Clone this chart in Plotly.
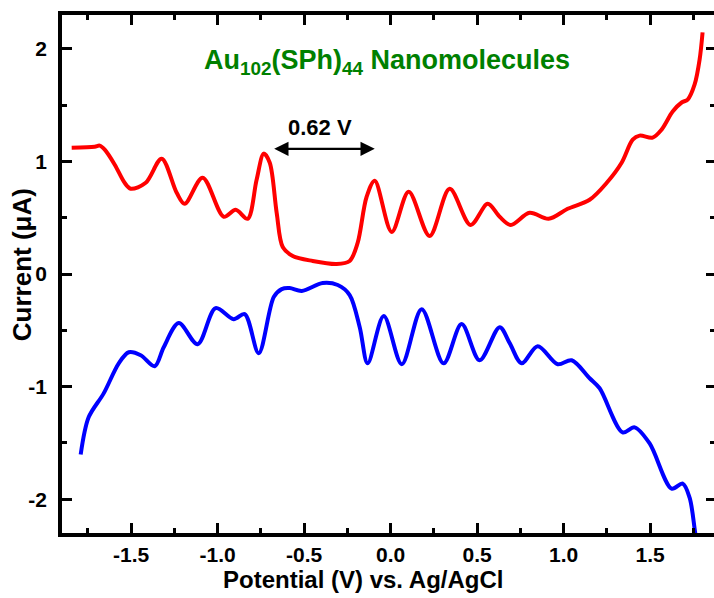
import plotly.graph_objects as go

# Oxidation (red) DPV trace: potential (V) and current (uA)
red_x = [-1.844, -1.711, -1.682, -1.653, -1.595, -1.538, -1.503, -1.416, -1.324, -1.237,
         -1.191, -1.087, -0.965, -0.896, -0.827, -0.775, -0.734, -0.699, -0.659, -0.624,
         -0.566, -0.451, -0.312, -0.237, -0.191, -0.139, -0.092, 0.006, 0.104, 0.225,
         0.341, 0.462, 0.561, 0.630, 0.694, 0.803, 0.913, 1.023, 1.150, 1.249,
         1.335, 1.399, 1.439, 1.514, 1.566, 1.630, 1.682, 1.717, 1.757, 1.786, 1.803]
red_y = [1.122, 1.131, 1.140, 1.104, 0.971, 0.810, 0.757, 0.810, 1.024, 0.721,
         0.623, 0.855, 0.508, 0.570, 0.490, 0.837, 1.069, 0.988, 0.543, 0.240,
         0.160, 0.116, 0.089, 0.116, 0.276, 0.686, 0.828, 0.374, 0.730, 0.338,
         0.757, 0.436, 0.623, 0.508, 0.436, 0.543, 0.490, 0.579, 0.659, 0.810,
         0.988, 1.193, 1.229, 1.211, 1.282, 1.443, 1.523, 1.549, 1.683, 1.906, 2.146]

# Reduction (blue) DPV trace
blue_x = [-1.792, -1.746, -1.659, -1.572, -1.514, -1.445, -1.364, -1.312, -1.225, -1.116,
          -1.012, -0.908, -0.844, -0.763, -0.676, -0.630, -0.584, -0.514, -0.393, -0.306,
          -0.237, -0.179, -0.133, -0.040, 0.064, 0.179, 0.306, 0.410, 0.514, 0.630,
          0.688, 0.757, 0.850, 0.965, 1.046, 1.150, 1.208, 1.341, 1.410, 1.497,
          1.624, 1.688, 1.728, 1.757, 1.769]
blue_y = [-1.603, -1.273, -1.060, -0.793, -0.695, -0.721, -0.819, -0.650, -0.436, -0.623,
          -0.303, -0.401, -0.356, -0.703, -0.205, -0.134, -0.125, -0.151, -0.080, -0.098,
          -0.187, -0.472, -0.793, -0.374, -0.801, -0.312, -0.793, -0.445, -0.766, -0.472,
          -0.614, -0.793, -0.641, -0.801, -0.766, -0.926, -1.015, -1.407, -1.362, -1.505,
          -1.906, -1.861, -1.986, -2.262, -2.400]

x_tickvals = [-1.5, -1.0, -0.5, 0.0, 0.5, 1.0, 1.5]
x_ticktext = ["-1.5", "-1.0", "-0.5", "0.0", "0.5", "1.0", "1.5"]
y_tickvals = [-2, -1, 0, 1, 2]
y_ticktext = ["-2", "-1", "0", "1", "2"]

title_text = "Au<sub>102</sub>(SPh)<sub>44</sub> Nanomolecules"
x_title = "Potential (V) vs. Ag/AgCl"
y_title = "Current (\u03bcA)"
gap_label = "0.62 V"
gap_start, gap_end, gap_level = -0.682, -0.092, 1.112

FONT = "Liberation Sans, Arial, sans-serif"
Y_RANGE = [-2.3, 2.3]

fig = go.Figure()
fig.add_trace(go.Scatter(x=red_x, y=red_y, mode="lines",
                         line=dict(color="#ff0000", width=4, shape="spline", smoothing=0.9),
                         showlegend=False, hoverinfo="skip"))
fig.add_trace(go.Scatter(x=blue_x, y=blue_y, mode="lines",
                         line=dict(color="#0000ff", width=4, shape="spline", smoothing=0.9),
                         showlegend=False, hoverinfo="skip"))
# invisible trace so the right-hand tick axis is drawn
fig.add_trace(go.Scatter(x=[None], y=[None], yaxis="y2", showlegend=False, hoverinfo="skip"))

tick_font = dict(family=FONT, size=21, color="black", weight="bold")

fig.update_layout(
    xaxis=dict(
        range=[-1.9, 1.869], tickvals=x_tickvals, ticktext=x_ticktext,
        showline=True, linecolor="black", linewidth=3.5, mirror="ticks",
        ticks="inside", ticklen=10, tickwidth=3, tickcolor="black",
        showgrid=False, zeroline=False, tickfont=tick_font,
        minor=dict(dtick=0.25, tick0=0, ticks="inside", ticklen=5, tickwidth=3, tickcolor="black"),
    ),
    yaxis=dict(
        range=Y_RANGE, tickvals=y_tickvals, ticktext=y_ticktext, ticklabelstandoff=7,
        showline=True, linecolor="black", linewidth=3.5, mirror=False,
        ticks="inside", ticklen=10, tickwidth=3, tickcolor="black",
        showgrid=False, zeroline=False, tickfont=tick_font,
        minor=dict(dtick=0.5, tick0=0, ticks="inside", ticklen=5, tickwidth=3, tickcolor="black"),
    ),
    yaxis2=dict(
        range=Y_RANGE, overlaying="y", side="right", tickvals=y_tickvals,
        showticklabels=False, showline=False,
        ticks="inside", ticklen=8, tickwidth=3, tickcolor="black",
        showgrid=False, zeroline=False,
        minor=dict(dtick=0.5, tick0=0, ticks="inside", ticklen=4, tickwidth=3, tickcolor="black"),
    ),
)

# axis titles
fig.add_annotation(x=0.462, y=0, xref="paper", yref="paper", yshift=-46, text=x_title,
                   showarrow=False, xanchor="center", yanchor="middle",
                   font=dict(family=FONT, size=24, color="black", weight="bold"))
fig.add_annotation(x=0, y=0.517, xref="paper", yref="paper", xshift=-40, text=y_title,
                   showarrow=False, xanchor="center", yanchor="middle", textangle=-90,
                   font=dict(family=FONT, size=26, color="black", weight="bold"))

fig.add_annotation(x=-0.02, y=1.886, xref="x", yref="y", text=title_text, showarrow=False,
                   font=dict(family=FONT, size=27, color="#008000", weight="bold"),
                   xanchor="center", yanchor="middle")
fig.add_annotation(x=gap_end, y=gap_level, ax=gap_start, ay=gap_level,
                   xref="x", yref="y", axref="x", ayref="y", text="",
                   showarrow=True, arrowhead=2, startarrowhead=2, arrowside="end+start",
                   arrowsize=1.3, startarrowsize=1.3, arrowwidth=2.2, arrowcolor="black",
                   standoff=0, startstandoff=0)
fig.add_annotation(x=(gap_start + gap_end) / 2 - 0.02, y=1.303, xref="x", yref="y", text=gap_label,
                   showarrow=False,
                   font=dict(family=FONT, size=22, color="black", weight="bold"))

fig.update_layout(
    width=714, height=598,
    margin=dict(l=62, r=0, t=15, b=65),
    paper_bgcolor="white", plot_bgcolor="white",
)
fig.write_html("out.html")
